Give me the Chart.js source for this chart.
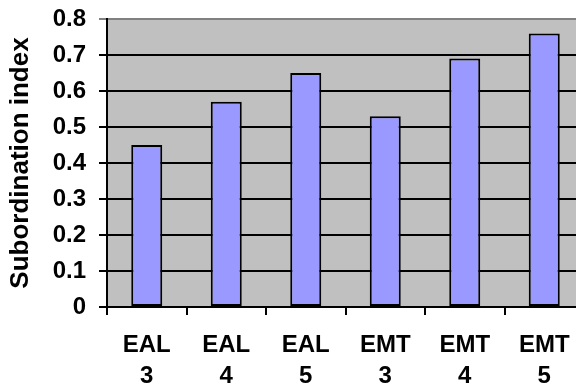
<!DOCTYPE html>
<html>
<head>
<meta charset="utf-8">
<script src="https://cdn.jsdelivr.net/npm/chart.js@4"></script>
<style>
html,body{margin:0;padding:0;overflow:hidden;background:#fff;}
#wrap{width:584px;height:391px;}
</style>
</head>
<body>
<div id="wrap"><canvas id="c"></canvas></div>
<script>
const categories = [['EAL','3'],['EAL','4'],['EAL','5'],['EMT','3'],['EMT','4'],['EMT','5']];
const values = [0.45, 0.57, 0.65, 0.53, 0.69, 0.76];
const yTicks = [0, 0.1, 0.2, 0.3, 0.4, 0.5, 0.6, 0.7, 0.8];
const yTitle = 'Subordination index';

const bgPlugin = {
  id: 'plotBg',
  beforeDraw(chart) {
    const a = chart.chartArea, ctx = chart.ctx;
    ctx.save();
    ctx.fillStyle = '#C0C0C0';
    ctx.fillRect(a.left, a.top, a.right - a.left, a.bottom - a.top);
    ctx.restore();
  }
};

const FONT = 'Liberation Sans, Arial, sans-serif';

new Chart(document.getElementById('c'), {
  type: 'bar',
  data: {
    labels: categories,
    datasets: [{
      data: values,
      backgroundColor: '#9999FF',
      borderColor: '#000000',
      borderWidth: 2,
      borderSkipped: false,
      categoryPercentage: 1,
      barPercentage: 0.39
    }]
  },
  options: {
    responsive: true,
    maintainAspectRatio: false,
    animation: false,
    layout: { padding: { top: 19, right: 0, left: 0, bottom: 0 } },
    plugins: { legend: { display: false }, tooltip: { enabled: false } },
    scales: {
      x: {
        offset: true,
        grid: { display: true, drawOnChartArea: false, drawTicks: true, tickLength: 8, color: '#000', lineWidth: 2, offset: true },
        border: { display: true, color: '#000', width: 2 },
        ticks: { color: '#000', padding: 15, maxRotation: 0, autoSkip: false,
          font: { family: FONT, size: 24, weight: 'bold', lineHeight: 1.3 } },
        afterFit(s) { s.height = 84; s.paddingLeft = 0; s.paddingRight = 0; }
      },
      y: {
        min: 0, max: 0.8,
        afterBuildTicks(s) { s.ticks = yTicks.map(v => ({ value: v })); },
        grid: {
          color: ctx => (ctx.tick && ctx.tick.value === 0.8) ? '#808080' : '#000',
          lineWidth: 2, tickLength: 8, drawTicks: true
        },
        border: { display: true, color: '#000', width: 2 },
        ticks: {
          color: '#000', padding: 13,
          callback: v => v === 0 ? '0' : Number(v).toFixed(1),
          font: { family: FONT, size: 24, weight: 'bold' }
        },
        title: {
          display: true, text: yTitle, color: '#000', padding: { top: 5, bottom: 0 },
          font: { family: FONT, size: 26, weight: 'bold', lineHeight: 1.2 }
        },
        afterFit(s) { s.width = 107; s.paddingTop = 0; s.paddingBottom = 0; }
      }
    }
  },
  plugins: [bgPlugin]
});
</script>
</body>
</html>
